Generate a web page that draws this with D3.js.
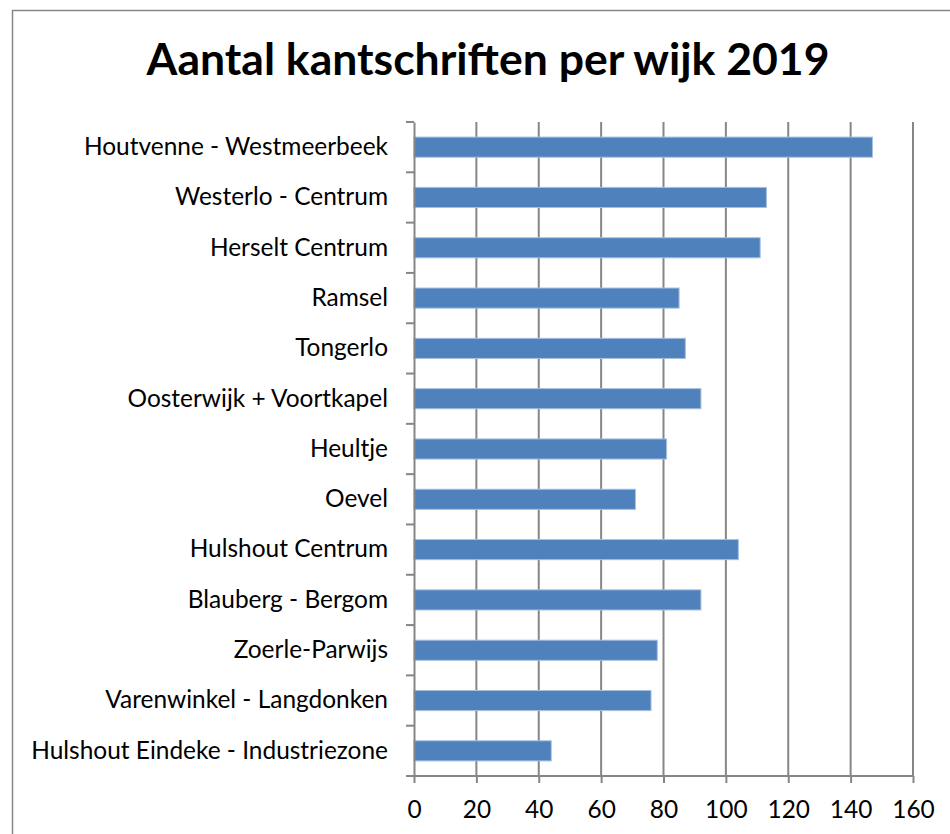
<!DOCTYPE html>
<html>
<head>
<meta charset="utf-8">
<script src="https://cdn.jsdelivr.net/npm/d3@7"></script>
<style>
  body { margin: 0; background: #fff; }
  svg { display: block; font-family: Lato, "Open Sans", sans-serif; }
</style>
</head>
<body>
<div id="chart"></div>
<script>
const categories = [
  'Houtvenne - Westmeerbeek',
  'Westerlo - Centrum',
  'Herselt Centrum',
  'Ramsel',
  'Tongerlo',
  'Oosterwijk + Voortkapel',
  'Heultje',
  'Oevel',
  'Hulshout Centrum',
  'Blauberg - Bergom',
  'Zoerle-Parwijs',
  'Varenwinkel - Langdonken',
  'Hulshout Eindeke - Industriezone'
];
const values = [147, 113, 111, 85, 87, 92, 81, 71, 104, 92, 78, 76, 44];
const xTicks = [0, 20, 40, 60, 80, 100, 120, 140, 160];
const title = 'Aantal kantschriften per wijk 2019';

const width = 950, height = 834;
const margin = {top: 122, right: 37, bottom: 58, left: 414};
const gridColor = '#868686';

const svg = d3.select('#chart').append('svg')
  .attr('width', width)
  .attr('height', height);

// chart frame
svg.append('rect')
  .attr('x', 12.5).attr('y', 10.5)
  .attr('width', 960).attr('height', 860)
  .attr('fill', 'none')
  .attr('stroke', gridColor)
  .attr('stroke-width', 1.5);

const x = d3.scaleLinear().domain([0, 160]).range([margin.left, width - margin.right]);
const y = d3.scaleBand().domain(categories)
  .range([margin.top, height - margin.bottom])
  .paddingInner(0.6).paddingOuter(0.3);

// title
const t = svg.append('text')
  .attr('x', 488).attr('y', 75)
  .attr('text-anchor', 'middle')
  .attr('font-weight', 'bold')
  .attr('font-size', 44)
  .attr('fill', '#000')
  .text(title);
t.attr('textLength', 683).attr('lengthAdjust', 'spacingAndGlyphs');

// vertical gridlines
svg.append('g').selectAll('line')
  .data(xTicks.slice(1))
  .enter().append('line')
  .attr('x1', d => x(d)).attr('x2', d => x(d))
  .attr('y1', margin.top).attr('y2', height - margin.bottom)
  .attr('stroke', gridColor)
  .attr('stroke-width', 2);

// bars
svg.append('g').selectAll('rect')
  .data(categories)
  .enter().append('rect')
  .attr('x', x(0))
  .attr('y', d => y(d))
  .attr('width', (d, i) => x(values[i]) - x(0))
  .attr('height', y.bandwidth())
  .attr('fill', '#4F81BD')
  .attr('stroke', '#a7c0de')
  .attr('stroke-width', 1);

// x axis
const xAxis = svg.append('g')
  .attr('transform', `translate(0,${height - margin.bottom})`)
  .call(d3.axisBottom(x).tickValues(xTicks).tickSize(7).tickPadding(18).tickSizeOuter(0));
xAxis.select('.domain').remove();
xAxis.append('line')
  .attr('x1', margin.left - 8).attr('x2', x(160))
  .attr('stroke', gridColor).attr('stroke-width', 2);
xAxis.selectAll('.tick line').attr('stroke', gridColor).attr('stroke-width', 2);
xAxis.selectAll('.tick text')
  .attr('font-size', 23)
  .attr('font-family', 'Lato, "Open Sans", sans-serif')
  .attr('fill', '#000');

// y axis: labels centred in bands, ticks on band boundaries
const yAxis = svg.append('g')
  .attr('transform', `translate(${margin.left},0)`)
  .call(d3.axisLeft(y).tickSize(0).tickPadding(26));
yAxis.select('.domain')
  .attr('stroke', gridColor).attr('stroke-width', 2);
yAxis.selectAll('.tick text')
  .attr('font-size', 22)
  .attr('font-family', 'Lato, "Open Sans", sans-serif')
  .attr('fill', '#000');

// fit label size so the longest label spans like the reference
let longest = 0;
yAxis.selectAll('.tick text').each(function() {
  longest = Math.max(longest, this.getComputedTextLength());
});
const fs = 22 * 357 / longest;
yAxis.selectAll('.tick text').attr('font-size', fs);
xAxis.selectAll('.tick text').attr('font-size', fs);

const bounds = d3.range(categories.length + 1).map(i => margin.top + i * y.step());
yAxis.append('g').selectAll('line')
  .data(bounds)
  .enter().append('line')
  .attr('x1', -8).attr('x2', 0)
  .attr('y1', d => d).attr('y2', d => d)
  .attr('stroke', gridColor).attr('stroke-width', 2);
</script>
</body>
</html>
